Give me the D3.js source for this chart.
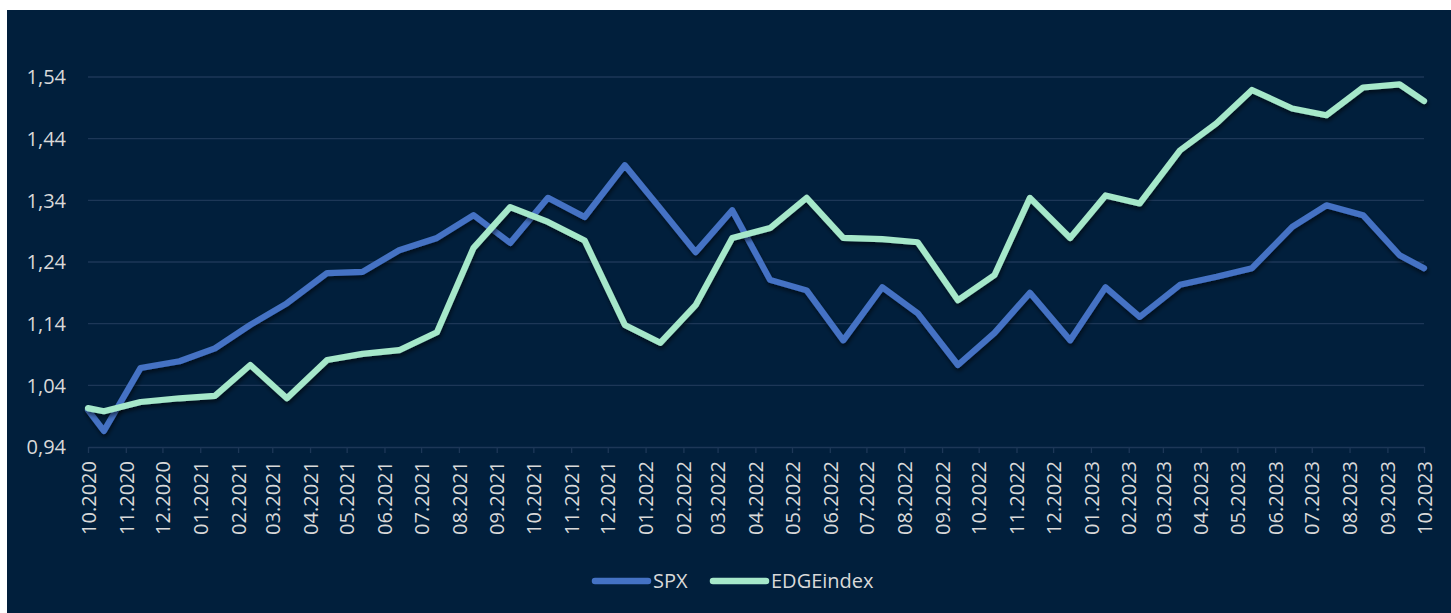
<!DOCTYPE html>
<html>
<head>
<meta charset="utf-8">
<script src="https://cdn.jsdelivr.net/npm/d3@7"></script>
<style>
  html, body { margin: 0; padding: 0; background: #ffffff; }
  svg { display: block; }
  text { font-family: "Open Sans", "Noto Sans", sans-serif; fill: #d9d9d9; }
</style>
</head>
<body>
<svg id="chart" width="1451" height="613"></svg>
<script>
// ---- Data ----
const dates = [
  "2020-10-01","2020-10-14","2020-11-13","2020-12-15","2021-01-13","2021-02-11",
  "2021-03-13","2021-04-15","2021-05-14","2021-06-13","2021-07-14","2021-08-13",
  "2021-09-12","2021-10-13","2021-11-12","2021-12-15","2022-01-13","2022-02-11",
  "2022-03-13","2022-04-13","2022-05-13","2022-06-12","2022-07-14","2022-08-12",
  "2022-09-14","2022-10-14","2022-11-12","2022-12-15","2023-01-13","2023-02-10",
  "2023-03-15","2023-04-14","2023-05-13","2023-06-15","2023-07-13","2023-08-12",
  "2023-09-11","2023-10-01"
];
const spx = [
  1.000,0.966,1.068,1.079,1.100,1.138,1.173,1.222,1.224,1.259,1.279,1.316,
  1.271,1.344,1.313,1.397,1.327,1.256,1.324,1.211,1.194,1.113,1.199,1.157,
  1.073,1.125,1.190,1.113,1.199,1.151,1.203,1.216,1.230,1.297,1.332,1.316,
  1.251,1.230
];
const edge = [
  1.003,0.998,1.013,1.019,1.023,1.073,1.019,1.081,1.091,1.097,1.126,1.263,
  1.329,1.305,1.275,1.138,1.109,1.170,1.279,1.295,1.344,1.279,1.277,1.272,
  1.178,1.219,1.344,1.279,1.348,1.335,1.421,1.465,1.519,1.489,1.478,1.523,
  1.528,1.501
];
const seriesNames = ["SPX", "EDGEindex"];
const seriesColors = ["#4472c4", "#a6e8ca"];
const yTicks = [0.94, 1.04, 1.14, 1.24, 1.34, 1.44, 1.54];
const xStart = "2020-10-01", xEnd = "2023-10-01";

// ---- Setup ----
const parse = d3.timeParse("%Y-%m-%d");
const svg = d3.select("#chart");
const W = 1451, H = 613;
const mLeft = 88, mRight = 1424, mTop = 77, mBottom = 447;

svg.append("rect").attr("x", 7).attr("y", 10).attr("width", W - 7).attr("height", H - 10)
  .attr("fill", "#011f3c");

const defs = svg.append("defs");
const f = defs.append("filter").attr("id", "shadow")
  .attr("x", "-5%").attr("y", "-10%").attr("width", "110%").attr("height", "130%");
f.append("feDropShadow").attr("dx", 1).attr("dy", 3).attr("stdDeviation", 2)
  .attr("flood-color", "#000000").attr("flood-opacity", 0.55);

const x = d3.scaleTime().domain([parse(xStart), parse(xEnd)]).range([mLeft, mRight]);
const y = d3.scaleLinear().domain([0.94, 1.54]).range([mBottom, mTop]);
const fmt = d3.formatLocale({decimal: ",", thousands: " ", grouping: [3], currency: ["", ""]}).format(".2f");

// gridlines
svg.append("g").selectAll("line").data(yTicks.slice(1)).join("line")
  .attr("x1", mLeft).attr("x2", mRight)
  .attr("y1", d => y(d)).attr("y2", d => y(d))
  .attr("stroke", "#1d3757").attr("stroke-width", 1.3);

// y axis labels
const yAxis = d3.axisLeft(y).tickValues(yTicks).tickFormat(fmt).tickSize(0).tickPadding(0);
const gy = svg.append("g").attr("transform", "translate(66,0)").call(yAxis);
gy.select(".domain").remove();
gy.selectAll("text").style("font-size", "20px").attr("fill", "#d9d9d9")
  .attr("font-family", null).attr("dy", "0.34em");

// x axis
const months = d3.timeMonth.range(parse(xStart), d3.timeDay.offset(parse(xEnd), 1));
const xAxis = d3.axisBottom(x).tickValues(months).tickFormat(d3.timeFormat("%m.%Y"))
  .tickSize(6).tickSizeOuter(0);
const gx = svg.append("g").attr("transform", `translate(0,${mBottom})`).call(xAxis);
gx.select(".domain").attr("stroke", "#1d3757").attr("stroke-width", 1.3);
gx.selectAll(".tick line").attr("stroke", "#1d3757").attr("stroke-width", 1.3);
gx.selectAll(".tick text")
  .attr("font-family", null)
  .style("font-size", "20px")
  .attr("fill", "#d9d9d9")
  .attr("transform", "rotate(-90)")
  .attr("text-anchor", "end")
  .attr("x", -14).attr("y", 0).attr("dy", "0.36em");

// lines
const data = [spx, edge];
const line = d3.line().x((d, i) => x(parse(dates[i]))).y(d => y(d));
svg.append("g").selectAll("path").data(data).join("path")
  .attr("d", d => line(d))
  .attr("fill", "none")
  .attr("stroke", (d, i) => seriesColors[i])
  .attr("stroke-width", 6.2)
  .attr("stroke-linejoin", "round")
  .attr("stroke-linecap", "round")
  .attr("filter", "url(#shadow)");

// legend
const legendX = [593, 711];
const lg = svg.append("g").selectAll("g").data(seriesNames).join("g")
  .attr("transform", (d, i) => `translate(${legendX[i]},581)`);
lg.append("line").attr("x1", 2).attr("x2", 55).attr("y1", 0).attr("y2", 0)
  .attr("stroke", (d, i) => seriesColors[i]).attr("stroke-width", 6.5)
  .attr("stroke-linecap", "round");
lg.append("text").attr("x", 60).attr("y", 0).attr("dy", "0.35em")
  .style("font-size", "20px").text(d => d);
</script>
</body>
</html>
